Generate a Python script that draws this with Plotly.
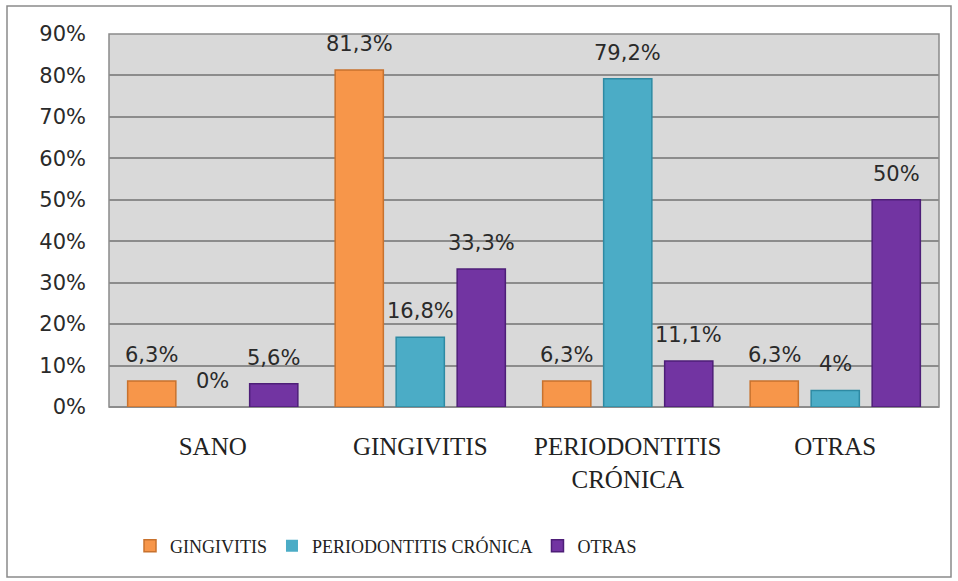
import plotly.graph_objects as go

# Diagnoses on the x axis (display labels may wrap)
categories = ["SANO", "GINGIVITIS", "PERIODONTITIS CRÓNICA", "OTRAS"]
category_labels = ["SANO", "GINGIVITIS", "PERIODONTITIS<br>CRÓNICA", "OTRAS"]

# Series (percent)
series_names = ["GINGIVITIS", "PERIODONTITIS CRÓNICA", "OTRAS"]
gingivitis = [6.3, 81.3, 6.3, 6.3]
periodontitis = [0, 16.8, 79.2, 4]
otras = [5.6, 33.3, 11.1, 50]

y_ticks = [0, 10, 20, 30, 40, 50, 60, 70, 80, 90]
y_tick_labels = [f"{t}%" for t in y_ticks]

fills = ["#F7964A", "#4BACC6", "#7234A2"]
edges = ["#C8722E", "#2E8AA3", "#4E1E78"]

W, H = 958, 581
ML, MR, MT, MB = 109, 19, 34, 174
PW, PH = W - ML - MR, H - MT - MB


def px_x(p):
    return (p - ML) / PW


def px_y(p):
    return (H - MB - p) / PH


def pct_label(v):
    return f"{v:g}".replace(".", ",") + "%"


fig = go.Figure()
all_series = [gingivitis, periodontitis, otras]
for name, vals, fc, ec in zip(series_names, all_series, fills, edges):
    fig.add_trace(go.Bar(
        name=name, x=categories, y=vals,
        marker=dict(color=fc,
                    line=dict(color=ec, width=[1.5 if v else 0 for v in vals])),
        hoverinfo="skip",
    ))

# Value labels above each bar
slot = 61
for i, vals in enumerate(all_series):
    for cat, v in zip(categories, vals):
        fig.add_annotation(
            x=cat, y=v, text=pct_label(v), showarrow=False,
            xshift=(i - 1) * slot, yshift=12, yanchor="bottom",
            font=dict(family="DejaVu Sans", size=21, color="#2a2a2a"),
        )

# Outer chart frame and plot-area border
fig.add_shape(type="rect", xref="paper", yref="paper",
              x0=px_x(7), x1=px_x(951), y0=px_y(577), y1=px_y(6),
              line=dict(color="#8a8a8a", width=1.5), layer="below")
fig.add_shape(type="rect", xref="paper", yref="paper",
              x0=0, x1=1, y0=0, y1=1,
              line=dict(color="#8a8a8a", width=1.5), layer="below")

fig.update_layout(
    width=W, height=H,
    margin=dict(l=ML, r=MR, t=MT, b=MB),
    paper_bgcolor="white",
    plot_bgcolor="#D9D9D9",
    barmode="group",
    bargap=0.118,
    bargroupgap=0.21,
    showlegend=True,
    legend=dict(
        orientation="h", x=px_x(130), xanchor="left",
        y=px_y(546), yanchor="middle",
        font=dict(family="Liberation Serif", size=18, color="#222"),
        bgcolor="rgba(0,0,0,0)",
    ),
    xaxis=dict(
        tickmode="array", tickvals=categories, ticktext=category_labels,
        tickfont=dict(family="Liberation Serif", size=25, color="#222"),
        ticks="", showgrid=False, showline=False,
        ticklabelstandoff=22,
    ),
    yaxis=dict(
        range=[0, 90], tickmode="array", tickvals=y_ticks, ticktext=y_tick_labels,
        tickfont=dict(family="DejaVu Sans", size=21, color="#2a2a2a"),
        showgrid=True, gridcolor="#8c8c8c", gridwidth=1.5,
        zeroline=True, zerolinecolor="#8c8c8c", zerolinewidth=1.5,
        ticks="", showline=False, ticklabelstandoff=22,
    ),
)

fig.write_html("out.html")
